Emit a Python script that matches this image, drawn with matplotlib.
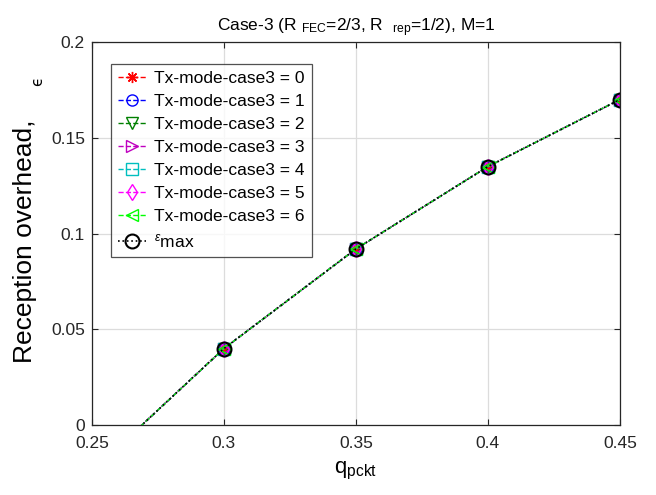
import matplotlib
matplotlib.use("Agg")
import matplotlib.pyplot as plt

plt.rcParams['font.family'] = ['Liberation Sans', 'DejaVu Sans']
plt.rcParams['mathtext.fontset'] = 'custom'
plt.rcParams['mathtext.rm'] = 'Liberation Sans'
plt.rcParams['mathtext.it'] = 'Liberation Sans:italic'
plt.rcParams['mathtext.bf'] = 'Liberation Sans:bold'

q_pckt = [0.25, 0.30, 0.35, 0.40, 0.45]
eps_mode = {
    0: [-0.0243, 0.040, 0.092, 0.135, 0.170],
    1: [-0.0243, 0.040, 0.092, 0.135, 0.170],
    2: [-0.0243, 0.040, 0.092, 0.135, 0.170],
    3: [-0.0243, 0.040, 0.092, 0.135, 0.170],
    4: [-0.0243, 0.040, 0.092, 0.135, 0.170],
    5: [-0.0243, 0.040, 0.092, 0.135, 0.170],
    6: [-0.0243, 0.040, 0.092, 0.135, 0.170],
}
eps_max = [-0.0243, 0.040, 0.092, 0.135, 0.170]

styles = [
    ((8, 2, 0), (1, 0, 0)),
    ('o', (0, 0, 1)),
    ('v', (0, 0.5, 0)),
    ('>', (0.75, 0, 0.75)),
    ('s', (0, 0.75, 0.75)),
    ('d', (1, 0, 1)),
    ('<', (0, 1, 0)),
]

fig = plt.figure(figsize=(6.56, 4.95), dpi=100)
ax = fig.add_axes([0.140, 0.141, 0.805, 0.774])

for k, (mk, col) in enumerate(styles):
    ax.plot(q_pckt, eps_mode[k], linestyle='--', marker=mk, color=col,
            markerfacecolor='none', markersize=8, linewidth=1.0,
            label=f'Tx-mode-case3 = {k}')
ax.plot(q_pckt, eps_max, linestyle=':', marker='o', color='k',
        markerfacecolor='none', markersize=10, linewidth=1.2,
        markeredgewidth=1.5, label=r'$^{\epsilon}$max')

ax.set_xlim(0.25, 0.45)
ax.set_ylim(0, 0.2)
ax.set_xticks([0.25, 0.3, 0.35, 0.4, 0.45])
ax.set_xticklabels(['0.25', '0.3', '0.35', '0.4', '0.45'])
ax.set_yticks([0, 0.05, 0.1, 0.15, 0.2])
ax.set_yticklabels(['0', '0.05', '0.1', '0.15', '0.2'])
ax.tick_params(direction='in', top=True, right=True, labelsize=12.5,
               length=4, width=0.8, colors='#262626')
ax.tick_params(axis='x', pad=8)
ax.tick_params(axis='y', pad=5)
ax.grid(True, color='#dcdcdc', linewidth=0.9)
ax.set_axisbelow(True)
for s in ax.spines.values():
    s.set_color('#262626')
    s.set_linewidth(0.9)

ax.set_xlabel(r'q$_{\mathrm{pckt}}$', fontsize=16, labelpad=6)
ax.set_ylabel('Reception overhead,', fontsize=19)
ax.yaxis.set_label_coords(-0.104, 0.48)
fig.text(0.058, 0.835, '\u03f5', family='DejaVu Sans', fontsize=11,
         rotation=90, ha='center', va='center')
ax.set_title(r'Case-3 (R $_{\mathrm{FEC}}$=2/3, R  $_{\mathrm{rep}}$=1/2), M=1',
             fontsize=12.5, pad=8)

leg = ax.legend(loc='upper left', bbox_to_anchor=(0.036, 0.942),
                fontsize=12.5, frameon=True, fancybox=False,
                edgecolor='#262626', handlelength=1.6, handletextpad=0.5,
                labelspacing=0.45, borderpad=0.4, borderaxespad=0)
leg.get_frame().set_linewidth(0.9)

fig.savefig('out.png', dpi=100)
